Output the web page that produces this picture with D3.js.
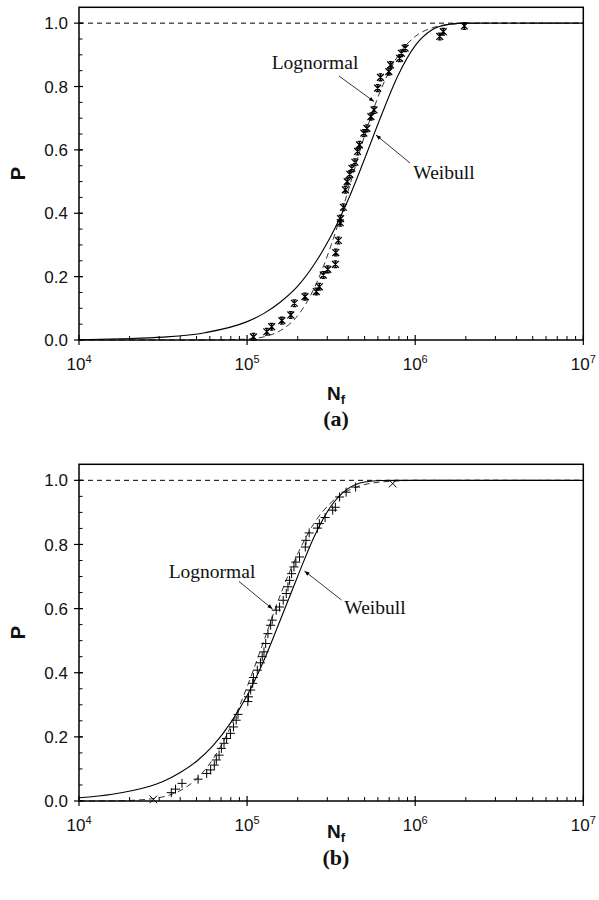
<!DOCTYPE html>
<html><head><meta charset="utf-8">
<script src="https://cdn.jsdelivr.net/npm/d3@7"></script>
<style>body{margin:0;background:#fff}svg{display:block}</style>
</head><body><svg id="c" width="599" height="900"></svg>
<script>
// ---------- data ----------
const yTicks = [0, 0.2, 0.4, 0.6, 0.8, 1.0];
const yTickLabels = ["0.0", "0.2", "0.4", "0.6", "0.8", "1.0"];
const xTicks = [1e4, 1e5, 1e6, 1e7];
const xTickExps = ["4", "5", "6", "7"];

// panel (a)
const aDataN = [1.09e5,1.31e5,1.40e5,1.61e5,1.82e5,1.91e5,2.21e5,2.58e5,2.69e5,2.84e5,3.02e5,3.35e5,3.37e5,3.49e5,3.58e5,3.60e5,3.74e5,3.84e5,3.94e5,4.08e5,4.20e5,4.38e5,4.54e5,4.66e5,4.95e5,5.16e5,5.45e5,5.69e5,5.98e5,6.21e5,6.97e5,7.14e5,8.07e5,8.28e5,8.71e5,1.40e6,1.47e6,1.96e6];
const aDataP = [0.010,0.026,0.042,0.061,0.079,0.116,0.137,0.153,0.168,0.205,0.223,0.239,0.276,0.314,0.370,0.383,0.419,0.474,0.500,0.523,0.542,0.561,0.595,0.616,0.653,0.668,0.705,0.726,0.795,0.829,0.847,0.868,0.889,0.905,0.921,0.958,0.973,0.991];
const aCurveN = [1e4,1.78e4,3.16e4,5.62e4,1e5,1.26e5,1.58e5,2e5,2.51e5,3.16e5,3.98e5,5.01e5,6.31e5,7.94e5,1e6,1.26e6,1.58e6,2e6,3.16e6,1e7];
const aWeibullP = [0.001,0.004,0.009,0.023,0.058,0.084,0.120,0.170,0.239,0.329,0.441,0.573,0.711,0.837,0.929,0.979,0.996,1.0,1.0,1.0];
const aLognormalP = [0,0,0,0,0.003,0.010,0.030,0.077,0.164,0.299,0.469,0.646,0.795,0.899,0.958,0.985,0.996,0.999,1.0,1.0];

// panel (b)
const bDataN = [2.77e4,3.54e4,3.75e4,4.10e4,5.11e4,5.75e4,6.07e4,6.38e4,6.56e4,6.81e4,7.03e4,7.29e4,7.55e4,7.96e4,8.30e4,8.61e4,8.83e4,1.01e5,1.02e5,1.05e5,1.08e5,1.09e5,1.15e5,1.20e5,1.23e5,1.26e5,1.29e5,1.33e5,1.38e5,1.41e5,1.49e5,1.56e5,1.64e5,1.71e5,1.75e5,1.79e5,1.84e5,1.90e5,1.95e5,2.05e5,2.22e5,2.24e5,2.34e5,2.62e5,2.69e5,2.91e5,3.23e5,3.35e5,3.55e5,3.88e5,4.42e5,7.35e5];
const bDataP = [0.005,0.026,0.037,0.055,0.068,0.086,0.097,0.112,0.128,0.143,0.164,0.180,0.195,0.211,0.231,0.252,0.270,0.310,0.325,0.346,0.367,0.385,0.408,0.431,0.450,0.465,0.491,0.522,0.548,0.564,0.595,0.605,0.626,0.647,0.668,0.688,0.709,0.730,0.745,0.761,0.792,0.813,0.836,0.851,0.865,0.884,0.907,0.916,0.948,0.963,0.979,0.990];
const bMarker = bDataN.map((d,i)=> (i===0 || i===bDataN.length-1) ? "x" : "+");
const bCurveN = [1e4,1.58e4,2.51e4,3.16e4,3.98e4,5.01e4,6.31e4,7.94e4,1e5,1.26e5,1.58e5,2e5,2.51e5,3.16e5,3.98e5,5.01e5,6.31e5,7.94e5,1e6,3.16e6,1e7];
const bWeibullP = [0.010,0.021,0.043,0.061,0.088,0.124,0.174,0.242,0.329,0.439,0.566,0.701,0.825,0.920,0.974,0.995,0.9995,1,1,1,1];
const bLognormalP = [0,0.0004,0.005,0.013,0.032,0.069,0.133,0.229,0.356,0.5,0.644,0.771,0.867,0.931,0.968,0.987,0.995,0.998,1.0,1.0,1.0];

const panelLabels = ["(a)", "(b)"];
const curveNames = ["Lognormal", "Weibull"];

// ---------- layout ----------
const svg = d3.select("#c");
const X0 = 79, X1 = 583.3;
const panels = [
  {top: 7.3, bottom: 340, dataN: aDataN, dataP: aDataP, marker: aDataN.map(()=>"star"),
   cN: aCurveN, wP: aWeibullP, lP: aLognormalP, label: panelLabels[0], nfY: 400, labY: 426,
   logText: [315, 69], logArrow: [[339, 76], [374, 101.5]],
   weiText: [444, 179], weiArrow: [[410, 163], [376, 135]]},
  {top: 464.3, bottom: 801, dataN: bDataN, dataP: bDataP, marker: bMarker,
   cN: bCurveN, wP: bWeibullP, lP: bLognormalP, label: panelLabels[1], nfY: 838, labY: 865,
   logText: [212, 578], logArrow: [[239, 581.5], [272.5, 609]],
   weiText: [375, 614], weiArrow: [[341.5, 600], [304.5, 571]]}
];

const defs = svg.append("defs");
defs.append("marker").attr("id","arr").attr("viewBox","0 0 10 10").attr("refX",10).attr("refY",5)
  .attr("markerWidth",7).attr("markerHeight",5).attr("markerUnits","userSpaceOnUse").attr("orient","auto")
  .append("path").attr("d","M0,1L10,5L0,9Z").attr("fill","#000");

const sans = "'Liberation Sans', Arial, Helvetica, sans-serif";
const serif = "'Liberation Serif', 'Times New Roman', serif";

const markerPaths = {
  star: "M-3.4,-3.4L3.4,3.4M-3.4,3.4L3.4,-3.4M0,-3.6L0,3.6M-1.8,-3.4L1.8,-3.4M-1.8,3.4L1.8,3.4",
  "+": "M-4.5,0L4.5,0M0,-4.5L0,4.5",
  "x": "M-3.8,-3.8L3.8,3.8M-3.8,3.8L3.8,-3.8"
};

panels.forEach(p => {
  const g = svg.append("g");
  const x = d3.scaleLog().domain([1e4, 1e7]).range([X0, X1]);
  const y = d3.scaleLinear().domain([0, 1.05]).range([p.bottom, p.top]);

  // dashed reference at P = 1
  g.append("line").attr("x1", X0).attr("x2", X1).attr("y1", y(1)).attr("y2", y(1))
    .attr("stroke", "#000").attr("stroke-width", 1).attr("stroke-dasharray", "5,4");

  const line = d3.line().x(d => x(d[0])).y(d => y(d[1])).curve(d3.curveMonotoneX);
  // lognormal dashed
  g.append("path").attr("d", line(p.cN.map((n,i)=>[n, p.lP[i]])))
    .attr("fill","none").attr("stroke","#333").attr("stroke-width",1).attr("stroke-dasharray","6,4");
  // weibull solid
  g.append("path").attr("d", line(p.cN.map((n,i)=>[n, p.wP[i]])))
    .attr("fill","none").attr("stroke","#000").attr("stroke-width",1.1);

  // data markers
  g.selectAll("path.m").data(p.dataN.map((n,i)=>[n, p.dataP[i], p.marker[i]])).join("path")
    .attr("class","m")
    .attr("transform", d => `translate(${x(d[0])},${y(d[1])})`)
    .attr("d", d => markerPaths[d[2]])
    .attr("fill","none").attr("stroke","#000").attr("stroke-width", d => d[2] === "star" ? 1.3 : 1);

  // frame
  g.append("rect").attr("x", X0).attr("y", p.top).attr("width", X1 - X0).attr("height", p.bottom - p.top)
    .attr("fill","none").attr("stroke","#000").attr("stroke-width",1.5);

  // y ticks
  const yMinor = d3.range(0, 21).map(i => i * 0.05);
  g.selectAll("line.ym").data(yMinor).join("line").attr("class","ym")
    .attr("x1", X0).attr("x2", X0 + 3.5).attr("y1", d => y(d)).attr("y2", d => y(d))
    .attr("stroke","#000").attr("stroke-width",1);
  g.selectAll("line.yM").data(yTicks).join("line").attr("class","yM")
    .attr("x1", X0 - 5).attr("x2", X0 + 4).attr("y1", d => y(d)).attr("y2", d => y(d))
    .attr("stroke","#000").attr("stroke-width",1.2);
  g.selectAll("text.yl").data(yTicks).join("text").attr("class","yl")
    .attr("x", X0 - 11).attr("y", d => y(d)).attr("dy","0.36em").attr("text-anchor","end")
    .attr("font-family", sans).attr("font-size", 17).attr("fill","#111")
    .text((d,i) => yTickLabels[i]);

  // x ticks
  const xMinor = [];
  [1e4,1e5,1e6].forEach(b => { for (let k = 2; k <= 9; k++) xMinor.push(b * k); });
  g.selectAll("line.xm").data(xMinor).join("line").attr("class","xm")
    .attr("x1", d => x(d)).attr("x2", d => x(d)).attr("y1", p.bottom).attr("y2", p.bottom - 4)
    .attr("stroke","#000").attr("stroke-width",1);
  g.selectAll("line.xM").data(xTicks).join("line").attr("class","xM")
    .attr("x1", d => x(d)).attr("x2", d => x(d)).attr("y1", p.bottom + 5).attr("y2", p.bottom - 5)
    .attr("stroke","#000").attr("stroke-width",1.2);
  const xl = g.selectAll("text.xl").data(xTicks).join("text").attr("class","xl")
    .attr("x", d => x(d)).attr("y", p.bottom + 30).attr("text-anchor","middle")
    .attr("font-family", sans).attr("font-size", 17).attr("fill","#111");
  xl.append("tspan").text("10");
  xl.append("tspan").attr("dy", -7).attr("font-size", 11).text((d,i) => xTickExps[i]);

  // axis titles
  const yMid = (p.top + p.bottom) / 2;
  g.append("text").attr("transform", `translate(25,${yMid}) rotate(-90)`).attr("text-anchor","middle")
    .attr("font-family", sans).attr("font-weight","bold").attr("font-size", 20).attr("fill","#111").text("P");
  const nt = g.append("text").attr("x", 336).attr("y", p.nfY).attr("text-anchor","middle")
    .attr("font-family", sans).attr("font-weight","bold").attr("font-size", 19).attr("fill","#111");
  nt.append("tspan").text("N");
  nt.append("tspan").attr("dy", 4).attr("font-size", 13).text("f");
  g.append("text").attr("x", 336).attr("y", p.labY).attr("text-anchor","middle")
    .attr("font-family", serif).attr("font-weight","bold").attr("font-size", 22).attr("fill","#111").text(p.label);

  // annotations
  g.append("text").attr("x", p.logText[0]).attr("y", p.logText[1]).attr("text-anchor","middle")
    .attr("font-family", serif).attr("font-size", 19.5).attr("fill","#111").text(curveNames[0]);
  g.append("line").attr("x1", p.logArrow[0][0]).attr("y1", p.logArrow[0][1])
    .attr("x2", p.logArrow[1][0]).attr("y2", p.logArrow[1][1])
    .attr("stroke","#000").attr("stroke-width",0.8).attr("marker-end","url(#arr)");
  g.append("text").attr("x", p.weiText[0]).attr("y", p.weiText[1]).attr("text-anchor","middle")
    .attr("font-family", serif).attr("font-size", 19.5).attr("fill","#111").text(curveNames[1]);
  g.append("line").attr("x1", p.weiArrow[0][0]).attr("y1", p.weiArrow[0][1])
    .attr("x2", p.weiArrow[1][0]).attr("y2", p.weiArrow[1][1])
    .attr("stroke","#000").attr("stroke-width",0.8).attr("marker-end","url(#arr)");
});
</script></body></html>
